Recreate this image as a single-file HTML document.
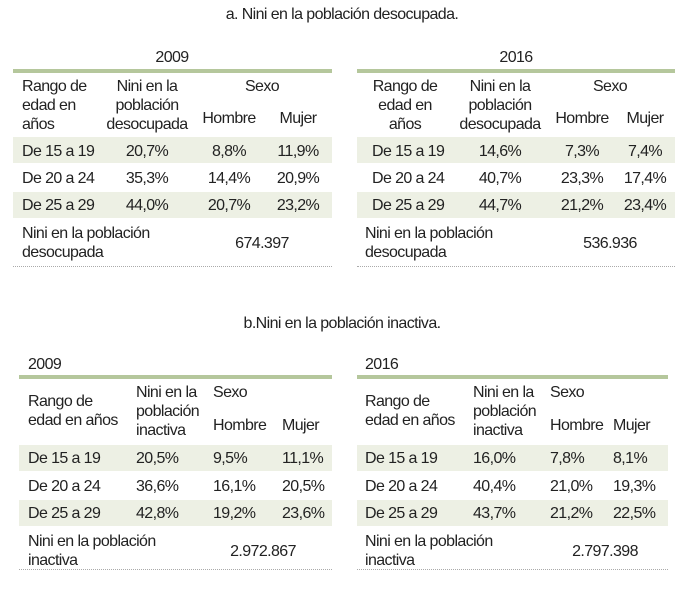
<!DOCTYPE html>
<html><head><meta charset="utf-8">
<style>
body{margin:0;width:684px;height:589px;background:#fff;position:relative;overflow:hidden;font-family:"Liberation Sans",sans-serif;color:#222;}
.t{position:absolute;white-space:nowrap;font-size:16px;letter-spacing:-0.6px;line-height:19px;transform:translateY(-9px);}
.c{transform:translate(-50%,-9px);text-align:center;}
.shade{position:absolute;background:#edf0e4;}
.gl{position:absolute;height:4px;background:#b5c79c;}
.dl{position:absolute;height:0;border-top:1px dotted #aaa;}
</style></head><body>
<div class="t c" style="left:342px;top:14px;font-size:16px">a. Nini en la población desocupada.</div>
<div class="t c" style="left:342px;top:323px;font-size:16px">b.Nini en la población inactiva.</div>
<script>
const ages=["De 15 a 19","De 20 a 24","De 25 a 29"];
const a09=[["20,7%","8,8%","11,9%"],["35,3%","14,4%","20,9%"],["44,0%","20,7%","23,2%"]];
const a16=[["14,6%","7,3%","7,4%"],["40,7%","23,3%","17,4%"],["44,7%","21,2%","23,4%"]];
const b09=[["20,5%","9,5%","11,1%"],["36,6%","16,1%","20,5%"],["42,8%","19,2%","23,6%"]];
const b16=[["16,0%","7,8%","8,1%"],["40,4%","21,0%","19,3%"],["43,7%","21,2%","22,5%"]];
const totals=["674.397","536.936","2.972.867","2.797.398"];
function el(cls,x,y,txt,extra){const d=document.createElement('div');d.className=cls;d.style.left=x+'px';d.style.top=y+'px';if(extra)d.style.cssText+=extra;if(txt!==null)d.innerHTML=txt;document.body.appendChild(d);return d;}
function table(cfg){
  let s;
  cfg.shades.forEach((sy,i)=>{s=el('shade',cfg.x0,sy,null,'width:'+(cfg.x1-cfg.x0)+'px;height:26px');
    
    });
  s=el('gl',cfg.x0,cfg.yLine-2,null,'width:'+(cfg.x1-cfg.x0)+'px');
  
  
  s=el('dl',cfg.x0,cfg.dot,null,'width:'+(cfg.x1-cfg.x0)+'px');
  
  
  s=el('t'+(cfg.titleC?' c':''),cfg.titleX,cfg.yTitle,cfg.year,'font-size:16px');
  
  
  const C=cfg.centered, k=C?'t c':'t';
  s=el(cfg.rangoC?'t c':'t',cfg.rangoX,cfg.hdr[0],cfg.rangoTxt);
  
  
  s=el(k,cfg.cols[0],cfg.hdr[1],cfg.niniTxt);
  
  
  s=el(k,cfg.sexoX,cfg.hdr[2],'Sexo');
  
  
  s=el(k,cfg.cols[1],cfg.hdr[3],'Hombre');
  
  
  s=el(k,cfg.cols[2],cfg.hdr[3],'Mujer');
  
  
  ages.forEach((a,i)=>{
    s=el('t',cfg.ageX,cfg.rowsY[i],a);
    
    
    cfg.data[i].forEach((v,j)=>{
      s=el(k,cfg.cols[j],cfg.rowsY[i],v);
      
      
    });
  });
  s=el('t',cfg.totX,cfg.tot,'Nini en la población<br>'+cfg.kind,'transform:none;font-size:16px;line-height:19px');
  
  
  s=el('t c',cfg.totValX,cfg.tot+19,cfg.totalVal,'font-size:16px');
  
  
}
const hdrA='Rango de<br>edad en<br>años', niniA='Nini en la<br>población<br>desocupada';
table({x0:13,x1:332,yTitle:57,yLine:71,titleX:172,titleC:true,year:'2009',centered:true,
  rangoX:22,rangoC:false,rangoTxt:hdrA,niniTxt:niniA,hdr:[86,86,86,118],sexoX:262,cols:[147,229,298],
  ageX:22,rowsY:[151,178,205],shades:[137,192],tot:224,dot:266,data:a09,totX:22,totValX:262,totalVal:totals[0],kind:'desocupada'});
table({x0:357,x1:675,yTitle:57,yLine:71,titleX:516,titleC:true,year:'2016',centered:true,
  rangoX:405,rangoC:true,rangoTxt:hdrA,niniTxt:niniA,hdr:[86,86,86,118],sexoX:610,cols:[500,582,645],
  ageX:372,rowsY:[151,178,205],shades:[137,192],tot:224,dot:266,data:a16,totX:365,totValX:610,totalVal:totals[1],kind:'desocupada'});
const hdrB='Rango de<br>edad en años', niniB='Nini en la<br>población<br>inactiva';
table({x0:19,x1:332,yTitle:364,yLine:377,titleX:28,titleC:false,year:'2009',centered:false,
  rangoX:28,rangoC:false,rangoTxt:hdrB,niniTxt:niniB,hdr:[401,392,392,425],sexoX:213,cols:[136,213,282],
  ageX:28,rowsY:[458,486,513],shades:[445,500],tot:532,dot:569,data:b09,totX:28,totValX:263,totalVal:totals[2],kind:'inactiva'});
table({x0:357,x1:668,yTitle:364,yLine:377,titleX:365,titleC:false,year:'2016',centered:false,
  rangoX:365,rangoC:false,rangoTxt:hdrB,niniTxt:niniB,hdr:[401,392,392,425],sexoX:550,cols:[473,550,613],
  ageX:365,rowsY:[458,486,513],shades:[445,500],tot:532,dot:569,data:b16,totX:365,totValX:605,totalVal:totals[3],kind:'inactiva'});
</script>
</body></html>
